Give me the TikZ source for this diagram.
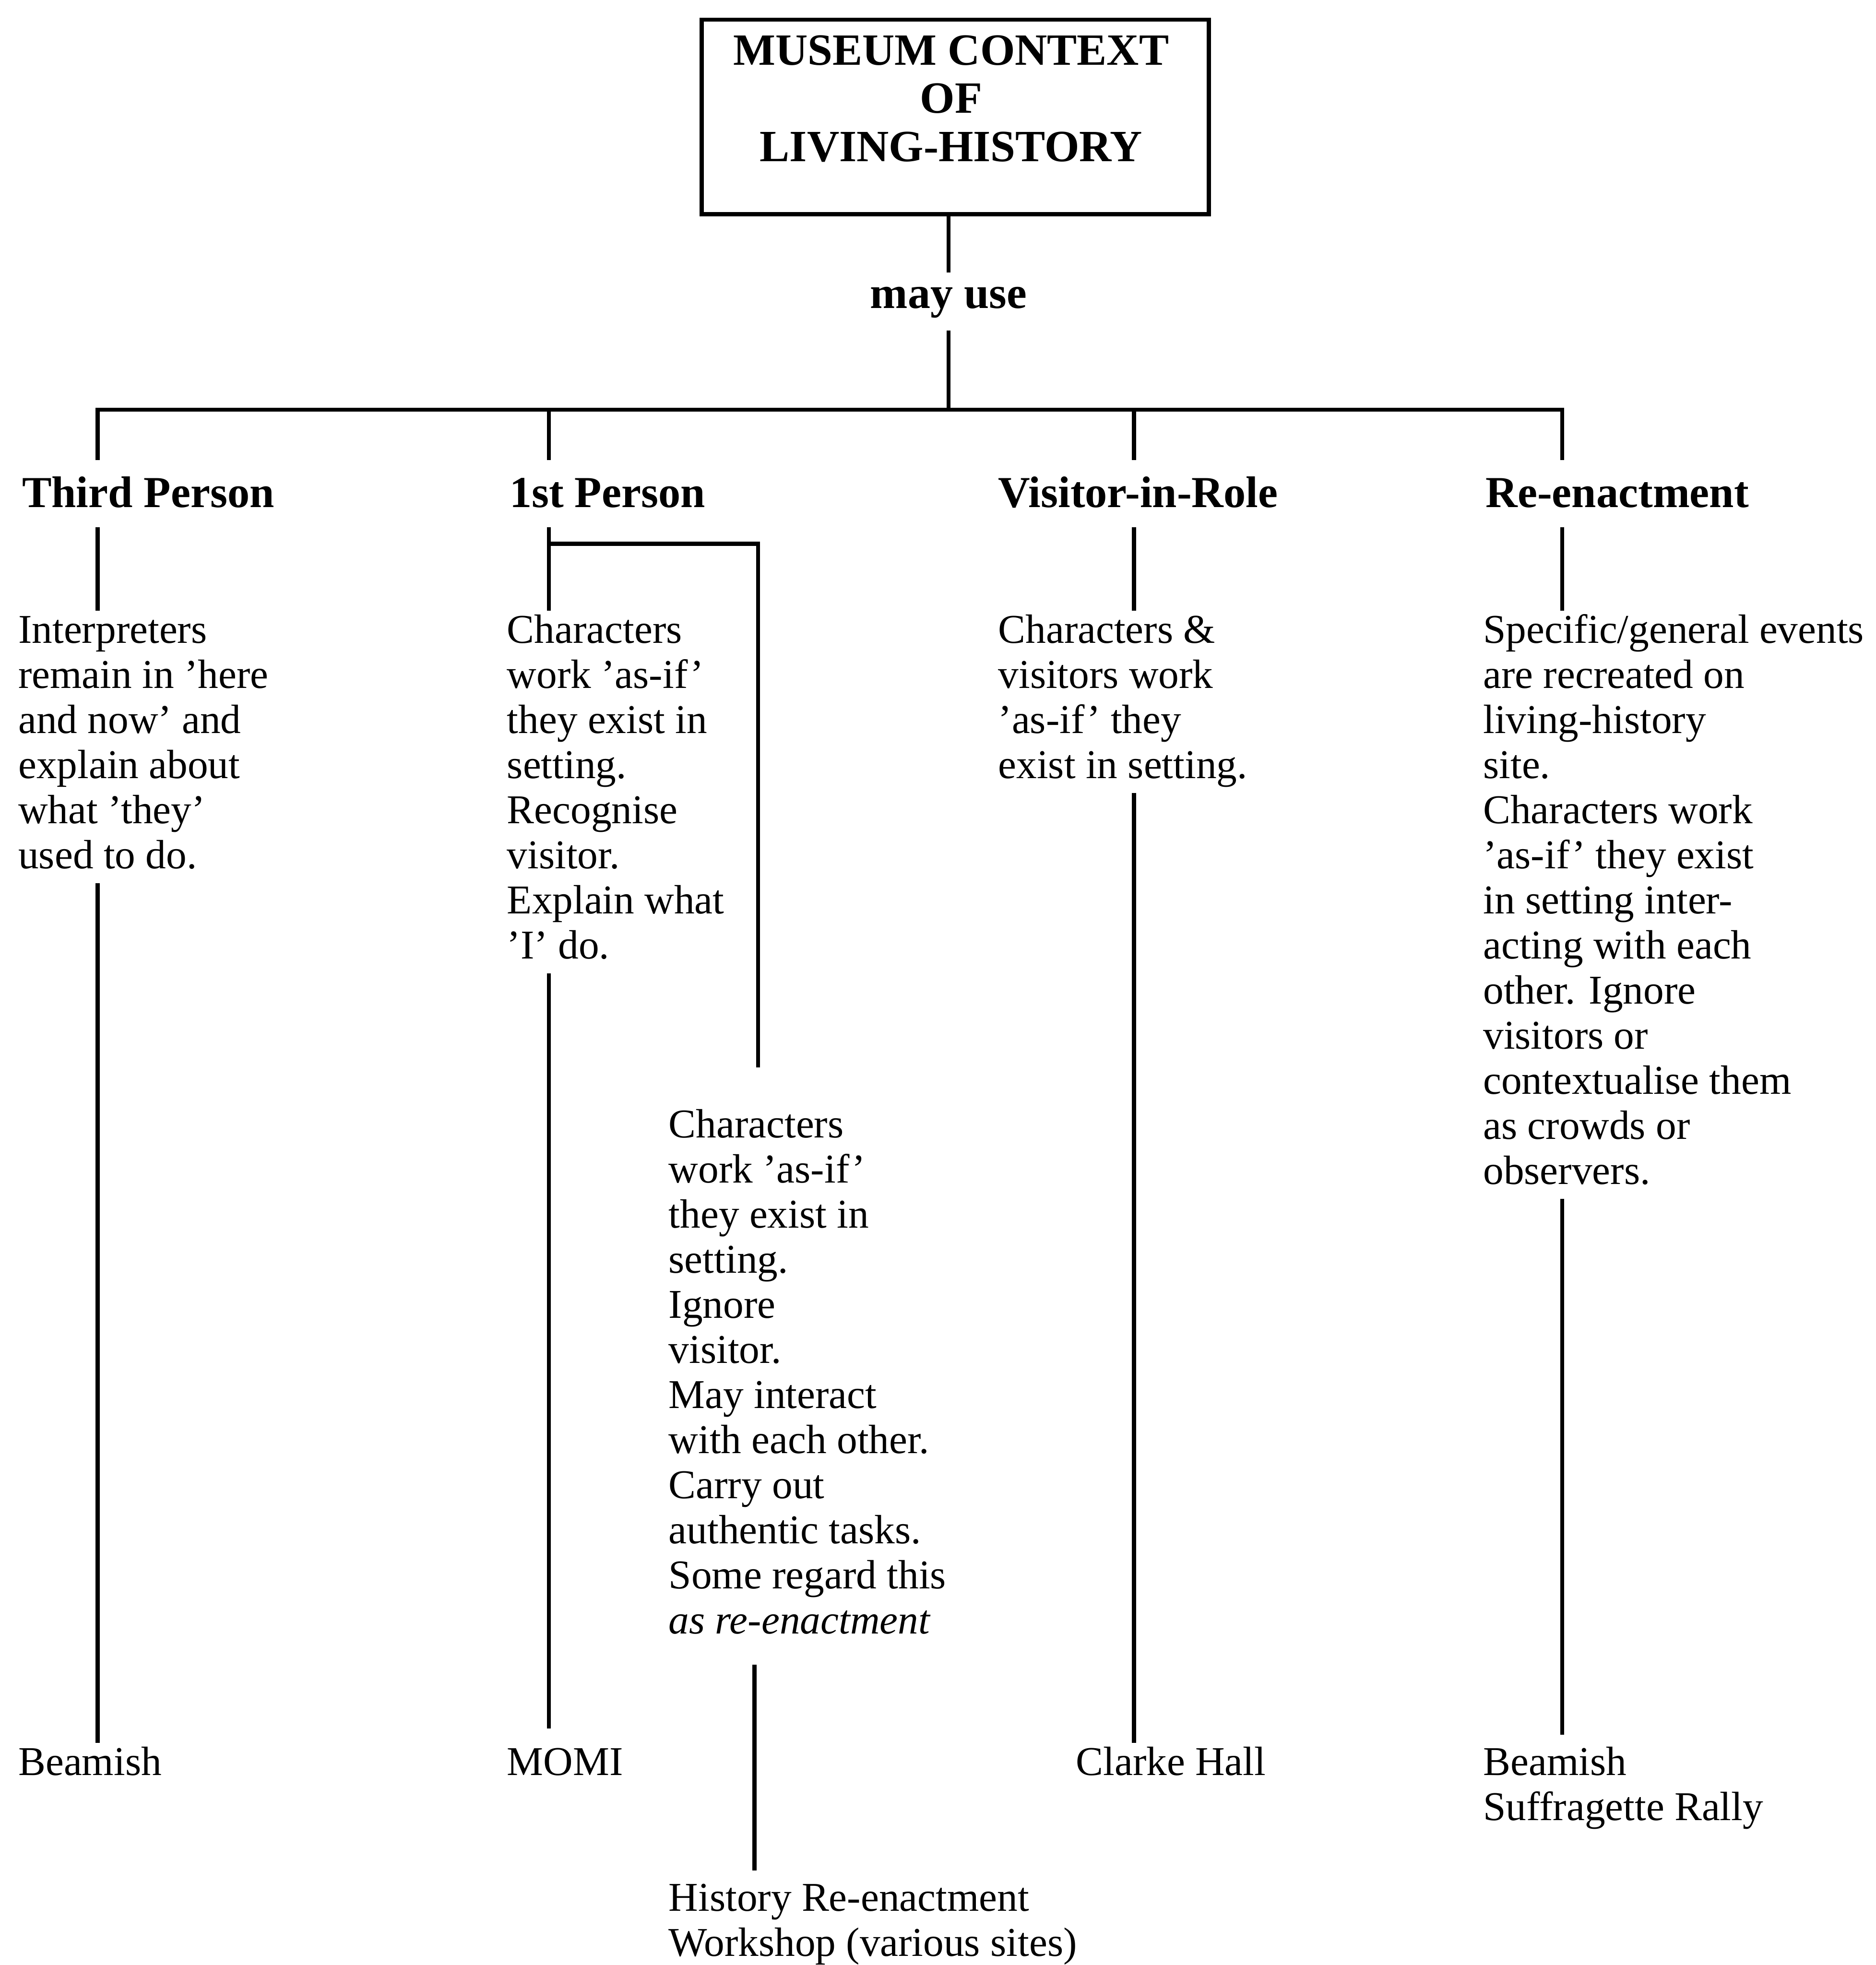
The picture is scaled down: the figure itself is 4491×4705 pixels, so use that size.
\documentclass[tikz,border=0pt]{standalone}
\usepackage{fontspec}
\setmainfont{Liberation Serif}
\newcommand{\blk}[1]{\begin{tabular}[t]{@{}l@{}}#1\end{tabular}}
\begin{document}
\begin{tikzpicture}[x=0.1pt,y=-0.1pt,
  conn/.style={line width=1pt},
  head/.style={anchor=base west,inner sep=0pt,font=\bfseries\fontsize{10.6}{12}\selectfont,text height=11.1pt,text depth=4.5pt},
  body/.style={anchor=base west,inner sep=0pt,font=\fontsize{9.8}{10.8}\selectfont}]
\useasboundingbox (0,0) rectangle (4491,4705);
% title
\node[draw,line width=1pt,minimum width=121.5pt,minimum height=46.6pt,inner sep=0pt] (title) at (2287,280) {};
\node[anchor=base,inner sep=0pt,font=\bfseries\fontsize{10.7}{11.5}\selectfont] (titletext) at (2277,156)
  {\begin{tabular}[t]{@{}c@{}}MUSEUM CONTEXT\\OF\\LIVING-HISTORY\end{tabular}};
\node[anchor=base,inner sep=0pt,font=\bfseries\fontsize{10.8}{12}\selectfont,text height=8.4pt,text depth=5.1pt] (mayuse) at (2271,738) {may use};
\draw[conn] (mayuse.north) -- (mayuse.north |- title.south);
% bar coordinates
\coordinate (b1) at (234,981);
\coordinate (b2) at (1314,981);
\coordinate (b3) at (2715,981);
\coordinate (b4) at (3740,981);
\coordinate (midx) at (1806,0);
% headings
\node[head] (third) at (51,1215) {Third Person};
\node[head] (firstp) at (1218,1215) {1st Person};
\node[head] (visitor) at (2388,1215) {Visitor-in-Role};
\node[head] (reen) at (3555,1215) {Re-enactment};
\draw[conn] (third.north -| b1) -- (b1) -- (b4) -- (reen.north -| b4);
\draw[conn] (mayuse.south) -- (mayuse.south |- b1);
\draw[conn] (b2) -- (firstp.north -| b2);
\draw[conn] (b3) -- (visitor.north -| b3);
% bodies
\node[body] (thirdb) at (42,1540) {\blk{Interpreters\\remain in 'here\\and now' and\\explain about\\what 'they'\\used to do.}};
\node[body] (firstb) at (1212,1540) {\blk{Characters\\work 'as-if'\\they exist in\\setting.\\Recognise\\visitor.\\Explain what\\'I' do.}};
\node[body] (visitorb) at (2388,1540) {\blk{Characters \&\\visitors work\\'as-if' they\\exist in setting.}};
\node[body] (reenb) at (3549,1540) {\blk{Specific/general events\\are recreated on\\living-history\\site.\\Characters work\\'as-if' they exist\\in setting inter-\\acting with each\\other. Ignore\\visitors or\\contextualise them\\as crowds or\\observers.}};
\node[body] (midb) at (1599,2724) {\blk{Characters\\work 'as-if'\\they exist in\\setting.\\Ignore\\visitor.\\May interact\\with each other.\\Carry out\\authentic tasks.\\Some regard this\\\textit{as re-enactment}}};
\draw[conn] (third.south -| b1) -- (thirdb.north -| b1);
\draw[conn] (firstp.south -| b2) -- (firstb.north -| b2);
\draw[conn] (visitor.south -| b3) -- (visitorb.north -| b3);
\draw[conn] (reen.south -| b4) -- (reenb.north -| b4);
\coordinate (fork) at (1314,1302);
\coordinate (midtop) at (1815,2556);
\draw[conn] (fork) -| (midtop);
% bottom labels
\node[body] (beam1) at (42,4251) {\blk{Beamish}};
\node[body] (momi) at (1212,4251) {\blk{MOMI}};
\node[body] (clarke) at (2574,4251) {\blk{Clarke Hall}};
\node[body] (beam2) at (3549,4251) {\blk{Beamish\\Suffragette Rally}};
\node[body] (hrw) at (1599,4576) {\blk{History Re-enactment\\Workshop (various sites)}};
\draw[conn] (thirdb.south -| b1) -- (beam1.north -| b1);
\draw[conn,shorten >=3.5pt] (firstb.south -| b2) -- (momi.north -| b2);
\draw[conn] (visitorb.south -| b3) -- (clarke.north -| b3);
\draw[conn,shorten >=2pt] (reenb.south -| b4) -- (beam2.north -| b4);
\draw[conn,shorten <=4pt,shorten >=2pt] (midb.south -| midx) -- (hrw.north -| midx);
\end{tikzpicture}
\end{document}
